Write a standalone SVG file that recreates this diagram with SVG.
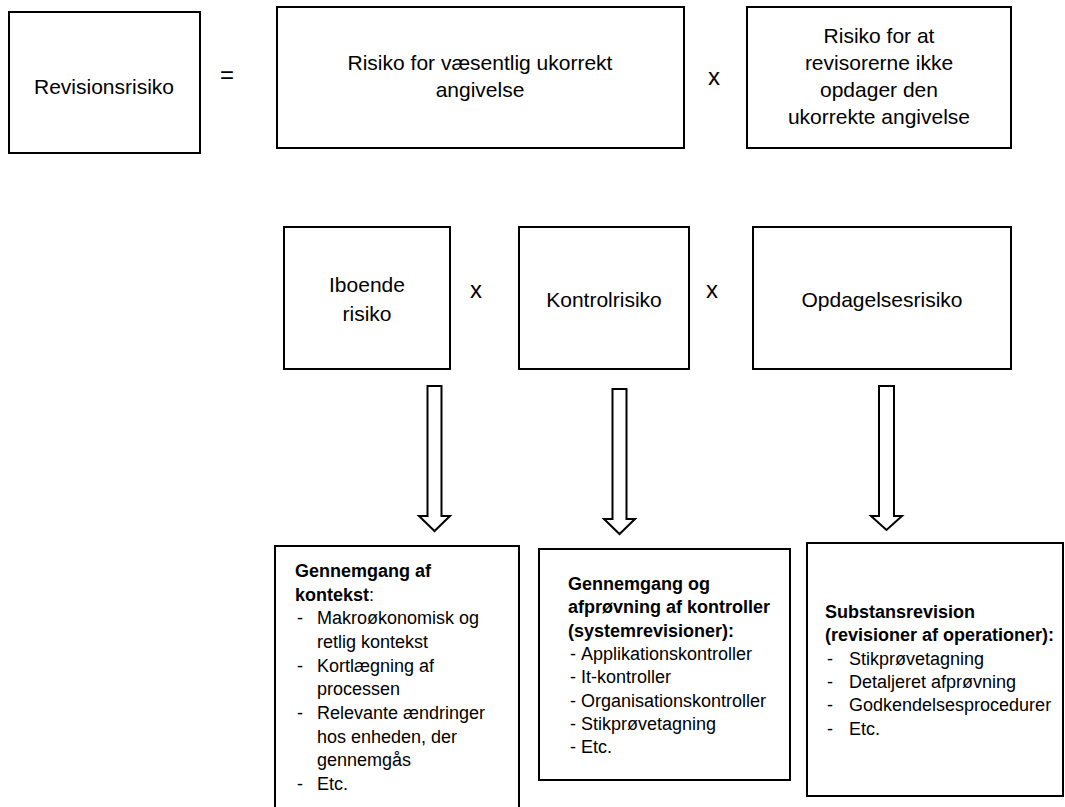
<svg xmlns="http://www.w3.org/2000/svg" width="1065" height="807" viewBox="0 0 1065 807">
  <style>
    .box { fill: #ffffff; stroke: #000000; stroke-width: 2; }
    .arrow { fill: #ffffff; stroke: #000000; stroke-width: 2; stroke-linejoin: miter; }
    text { font-family: "Liberation Sans", Arial, sans-serif; fill: #000000; }
    .big { font-size: 21px; text-anchor: middle; }
    .op { font-size: 24px; text-anchor: middle; }
    .small { font-size: 18px; }
    .b { font-weight: bold; }
  </style>

  <rect width="1065" height="807" fill="#ffffff"/>

  <!-- Top equation -->
  <g id="revisionsrisiko">
    <rect class="box" x="9" y="12" width="191" height="141"/>
    <text class="big" x="104" y="94">Revisionsrisiko</text>
  </g>
  <text class="op" x="227" y="83">=</text>
  <g id="risiko-vaesentlig">
    <rect class="box" x="277" y="7" width="407" height="141"/>
    <text class="big" x="480" y="70">Risiko for væsentlig ukorrekt</text>
    <text class="big" x="480" y="97">angivelse</text>
  </g>
  <text class="op" x="714" y="85">x</text>
  <g id="risiko-opdager">
    <rect class="box" x="747" y="7" width="264" height="141"/>
    <text class="big" x="879" y="43">Risiko for at</text>
    <text class="big" x="879" y="70">revisorerne ikke</text>
    <text class="big" x="879" y="97">opdager den</text>
    <text class="big" x="879" y="124">ukorrekte angivelse</text>
  </g>

  <!-- Risk components -->
  <g id="iboende">
    <rect class="box" x="284" y="227" width="166" height="142"/>
    <text class="big" x="367" y="292">Iboende</text>
    <text class="big" x="367" y="321">risiko</text>
  </g>
  <text class="op" x="476" y="298">x</text>
  <g id="kontrolrisiko">
    <rect class="box" x="519" y="227" width="170" height="142"/>
    <text class="big" x="604" y="307">Kontrolrisiko</text>
  </g>
  <text class="op" x="712" y="298">x</text>
  <g id="opdagelsesrisiko">
    <rect class="box" x="753" y="227" width="258" height="142"/>
    <text class="big" x="882" y="307">Opdagelsesrisiko</text>
  </g>

  <!-- Hollow block arrows -->
  <g id="connectors">
    <path class="arrow" d="M427.5,386 H441.5 V516 H450 L434.5,531 L419,516 H427.5 Z"/>
    <path class="arrow" d="M612.5,389 H626.5 V519 H635 L619.5,534 L604,519 H612.5 Z"/>
    <path class="arrow" d="M879,386 H894 V516 H902 L886.5,530 L871,516 H879 Z"/>
  </g>

  <!-- Procedures -->
  <g id="kontekst">
    <rect class="box" x="275" y="546" width="244" height="270"/>
    <text class="small b" x="295" y="577">Gennemgang af</text>
    <text class="small" x="295" y="600.5"><tspan class="b">kontekst</tspan>:</text>
    <text class="small" x="297" y="624">-</text>
    <text class="small" x="317" y="624">Makroøkonomisk og</text>
    <text class="small" x="317" y="648">retlig kontekst</text>
    <text class="small" x="297" y="671.5">-</text>
    <text class="small" x="317" y="671.5">Kortlægning af</text>
    <text class="small" x="317" y="695">processen</text>
    <text class="small" x="297" y="719">-</text>
    <text class="small" x="317" y="719">Relevante ændringer</text>
    <text class="small" x="317" y="742.5">hos enheden, der</text>
    <text class="small" x="317" y="766">gennemgås</text>
    <text class="small" x="297" y="790">-</text>
    <text class="small" x="317" y="790">Etc.</text>
  </g>

  <g id="kontroller">
    <rect class="box" x="539" y="549" width="251" height="231"/>
    <text class="small b" x="568" y="590">Gennemgang og</text>
    <text class="small b" x="568" y="613.3">afprøvning af kontroller</text>
    <text class="small b" x="568" y="636.6">(systemrevisioner):</text>
    <text class="small" x="570" y="660">-</text>
    <text class="small" x="581" y="660">Applikationskontroller</text>
    <text class="small" x="570" y="683.3">-</text>
    <text class="small" x="581" y="683.3">It-kontroller</text>
    <text class="small" x="570" y="706.6">-</text>
    <text class="small" x="581" y="706.6">Organisationskontroller</text>
    <text class="small" x="570" y="730">-</text>
    <text class="small" x="581" y="730">Stikprøvetagning</text>
    <text class="small" x="570" y="753.3">-</text>
    <text class="small" x="581" y="753.3">Etc.</text>
  </g>

  <g id="substansrevision">
    <rect class="box" x="807" y="543" width="256" height="253"/>
    <text class="small b" x="825" y="618">Substansrevision</text>
    <text class="small b" x="825" y="641.3">(revisioner af operationer):</text>
    <text class="small" x="827" y="664.6">-</text>
    <text class="small" x="849" y="664.6">Stikprøvetagning</text>
    <text class="small" x="827" y="688">-</text>
    <text class="small" x="849" y="688">Detaljeret afprøvning</text>
    <text class="small" x="827" y="711.3">-</text>
    <text class="small" x="849" y="711.3">Godkendelsesprocedurer</text>
    <text class="small" x="827" y="734.6">-</text>
    <text class="small" x="849" y="734.6">Etc.</text>
  </g>
</svg>
